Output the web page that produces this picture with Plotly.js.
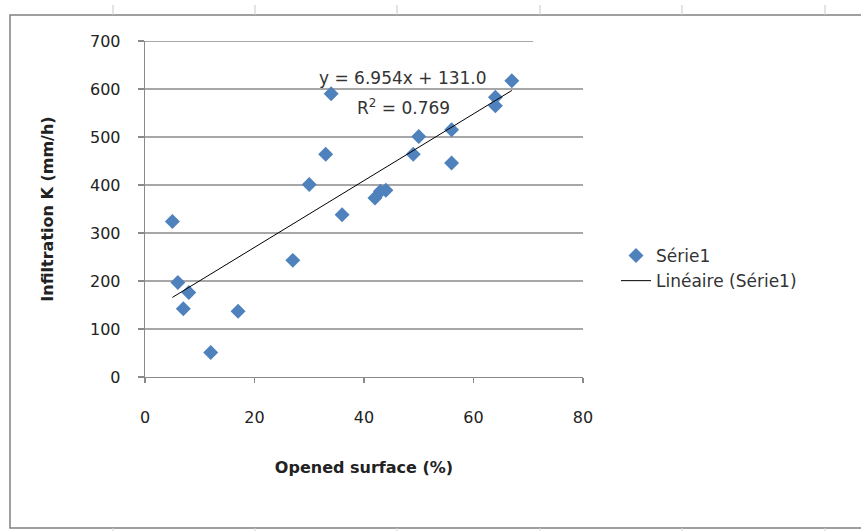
<!DOCTYPE html>
<html><head><meta charset="utf-8">
<script src="https://cdn.plot.ly/plotly-3.0.1.min.js"></script>
<style>html,body{margin:0;padding:0;background:#fff}#chart{width:861px;height:531px}</style>
</head><body><div id="chart"></div>
<script>
// Data
const openedSurface = [5, 6, 7, 8, 12, 17, 27, 30, 33, 34, 36, 42, 43, 44, 49, 50, 56, 56, 64, 64, 67];
const infiltrationK = [324, 197, 142, 176, 51, 137, 243, 401, 464, 590, 338, 373, 387, 389, 464, 501, 446, 515, 583, 565, 617];
const xTicks = [0, 20, 40, 60, 80];
const yTicks = [0, 100, 200, 300, 400, 500, 600, 700];
const trendSlope = 6.954;
const trendIntercept = 131.0;
const trendR2 = 0.769;
const seriesName = 'Série1';
const trendName = 'Linéaire (Série1)';
const xTitle = 'Opened surface (%)';
const yTitle = 'Infiltration K (mm/h)';

const FONT = 'DejaVu Sans, Verdana, sans-serif';
const W = 861, H = 531;
const M = {l: 145, r: 278, t: 41, b: 154};
const PW = W - M.l - M.r, PH = H - M.t - M.b;
const px2x = p => (p - M.l) / PW;
const py2y = p => (H - M.b - p) / PH;

const xMin = Math.min(...openedSurface), xMax = Math.max(...openedSurface);
const trendX = [xMin, xMax];
const trendY = trendX.map(x => trendSlope * x + trendIntercept);

const gridColor = '#8a8a8a';
const shapes = [];
yTicks.forEach(v => {
  if (v === 0) return;
  shapes.push({type: 'line', xref: 'x', yref: 'y', x0: 0, x1: v === 700 ? 70.9 : 80, y0: v, y1: v,
    line: {color: gridColor, width: 1.3}, layer: 'below'});
});
// outer chart border
shapes.push({type: 'rect', xref: 'paper', yref: 'paper', x0: px2x(10), x1: px2x(880), y0: py2y(15), y1: py2y(528),
  line: {color: '#808080', width: 1.5}, fillcolor: 'rgba(0,0,0,0)'});
// spreadsheet ruler marks
[113, 255, 397, 540, 682, 825].forEach(p => {
  shapes.push({type: 'line', xref: 'paper', yref: 'paper', x0: px2x(p), x1: px2x(p), y0: py2y(5), y1: py2y(15),
    line: {color: '#c8c8c8', width: 1}});
  shapes.push({type: 'line', xref: 'paper', yref: 'paper', x0: px2x(p), x1: px2x(p), y0: py2y(528), y1: py2y(531),
    line: {color: '#d8d8d8', width: 1}});
});

const traces = [
  {x: openedSurface, y: infiltrationK, type: 'scatter', mode: 'markers', name: seriesName, legendgroup: 'a',
   marker: {symbol: 'diamond', size: 11.5, color: '#4f81bd', line: {width: 0}}, cliponaxis: false},
  {x: trendX, y: trendY, type: 'scatter', mode: 'lines', name: trendName, legendgroup: 'b',
   line: {color: '#000000', width: 1}}
];

const layout = {
  width: W, height: H, margin: M,
  paper_bgcolor: '#ffffff', plot_bgcolor: '#ffffff',
  font: {family: FONT, size: 16, color: '#222'},
  showlegend: true,
  legend: {x: px2x(616), y: py2y(238), xanchor: 'left', yanchor: 'top', bgcolor: 'rgba(0,0,0,0)',
    font: {family: FONT, size: 17, color: '#333'}, tracegroupgap: 0},
  xaxis: {range: [0, 80], tickvals: xTicks, ticktext: xTicks.map(String), ticks: 'outside', ticklen: 5,
    tickcolor: gridColor, tickwidth: 1.3, showline: true, linecolor: gridColor, linewidth: 1.3,
    showgrid: false, zeroline: false, ticklabelstandoff: 20, fixedrange: true,
    tickfont: {family: FONT, size: 16, color: '#222'},
    title: {text: '<b>' + xTitle + '</b>', font: {family: FONT, size: 16, color: '#222'}, standoff: 36}},
  yaxis: {range: [0, 700], tickvals: yTicks, ticktext: yTicks.map(String), ticks: 'outside', ticklen: 6,
    tickcolor: gridColor, tickwidth: 1.3, showline: true, linecolor: gridColor, linewidth: 1.3,
    showgrid: false, zeroline: false, ticklabelstandoff: 14, fixedrange: true,
    tickfont: {family: FONT, size: 16, color: '#222'},
    title: {text: '<b>' + yTitle + '</b>', font: {family: FONT, size: 16, color: '#222'}, standoff: 32}},
  shapes: shapes,
  annotations: [
    {xref: 'paper', yref: 'paper', x: px2x(403), y: py2y(78), xanchor: 'center', yanchor: 'middle', showarrow: false,
     text: 'y = ' + trendSlope.toFixed(3) + 'x + ' + trendIntercept.toFixed(1), font: {family: FONT, size: 17, color: '#333'}},
    {xref: 'paper', yref: 'paper', x: px2x(403), y: py2y(107), xanchor: 'center', yanchor: 'middle', showarrow: false,
     text: 'R<sup>2</sup> = ' + trendR2.toFixed(3), font: {family: FONT, size: 17, color: '#333'}}
  ]
};

Plotly.newPlot('chart', traces, layout, {displayModeBar: false, staticPlot: true});
</script>
</body></html>
